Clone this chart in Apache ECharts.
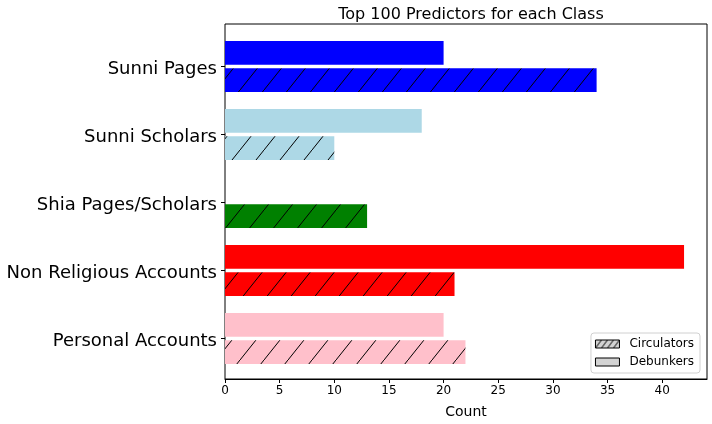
<!DOCTYPE html>
<html>
<head>
<meta charset="utf-8">
<script src="https://cdn.jsdelivr.net/npm/echarts@6/dist/echarts.min.js"></script>
<style>
  html, body { margin: 0; padding: 0; background: #fff; }
  #chart { width: 712px; height: 424px; }
</style>
</head>
<body>
<div id="chart"></div>
<script>
const categories = ['Sunni Pages', 'Sunni Scholars', 'Shia Pages/Scholars', 'Non Religious Accounts', 'Personal Accounts']
const debunkers = [20, 18, 0, 42, 20]
const circulators = [34, 10, 13, 21, 22]
const classColors = ['#0000ff', '#add8e6', '#008000', '#ff0000', '#ffc0cb']
const xTicks = [0, 5, 10, 15, 20, 25, 30, 35, 40]

const FONT = 'DejaVu Sans'

// hatch tile, '/' lines like matplotlib
const hatch = (bg, w = 24, h = 30) => {
  const c = document.createElement('canvas')
  c.width = w
  c.height = h
  const ctx = c.getContext('2d')
  ctx.fillStyle = bg
  ctx.fillRect(0, 0, w, h)
  ctx.strokeStyle = '#000'
  ctx.lineWidth = 1
  ctx.beginPath()
  ctx.moveTo(-w * 0.1, h * 1.1)
  ctx.lineTo(w * 1.1, -h * 0.1)
  ctx.stroke()
  return { image: c, repeat: 'repeat' }
}

const chart = echarts.init(document.getElementById('chart'), null, { renderer: 'canvas' })

const option = {
  animation: false,
  textStyle: { fontFamily: FONT, color: '#000' },
  title: {
    text: 'Top 100 Predictors for each Class',
    left: 466,
    textAlign: 'center',
    top: 2,
    textStyle: { fontFamily: FONT, fontSize: 16, fontWeight: 'normal', color: '#000' }
  },
  legend: {
    data: ['Circulators', 'Debunkers'],
    orient: 'vertical',
    right: 12,
    bottom: 51,
    icon: 'rect',
    itemWidth: 24,
    itemHeight: 8,
    itemGap: 6,
    padding: [5, 6, 5, 4],
    borderColor: '#d0d0d0',
    borderWidth: 1,
    borderRadius: 3,
    itemStyle: { borderColor: '#000', borderWidth: 1 },
    textStyle: { fontFamily: FONT, fontSize: 12, color: '#000', padding: [0, 0, 0, 5] }
  },
  grid: [
    // frame
    { left: 225, right: 5, top: 24, bottom: 45, show: true, borderColor: '#000', borderWidth: 1, backgroundColor: 'transparent' },
    // bars, inset by matplotlib's 5% margins
    { left: 225, right: 5, top: 32.5, bottom: 51.5 }
  ],
  xAxis: [
    {
      gridIndex: 0,
      type: 'value',
      min: 0,
      max: 44.1,
      name: 'Count',
      nameLocation: 'middle',
      nameGap: 26,
      nameTextStyle: { fontFamily: FONT, fontSize: 14, color: '#000' },
      axisLine: { show: true, lineStyle: { color: '#000', width: 1 } },
      axisTick: { show: true, length: 4, customValues: xTicks, lineStyle: { color: '#000' } },
      axisLabel: {
        fontFamily: FONT,
        fontSize: 12,
        color: '#000',
        margin: 6,
        customValues: xTicks
      },
      splitLine: { show: false }
    },
    {
      gridIndex: 1,
      type: 'value',
      min: 0,
      max: 44.1,
      show: false
    }
  ],
  yAxis: [
    { gridIndex: 0, type: 'value', show: false },
    {
      gridIndex: 1,
      type: 'category',
      data: categories,
      inverse: true,
      axisLine: { show: false },
      axisTick: { show: true, alignWithLabel: true, length: 4, lineStyle: { color: '#000' } },
      // matplotlib centres on the baseline-ish, so push the text a bit lower
      axisLabel: { fontFamily: FONT, fontSize: 18, color: '#000', margin: 8, verticalAlign: 'top', lineHeight: 5 },
      splitLine: { show: false }
    }
  ],
  series: [
    {
      name: 'Debunkers',
      type: 'bar',
      xAxisIndex: 1,
      yAxisIndex: 1,
      barWidth: 23.8,
      barGap: '14%',
      itemStyle: { color: '#d3d3d3' },
      data: debunkers.map((v, i) => ({ value: v, itemStyle: { color: classColors[i] } }))
    },
    {
      name: 'Circulators',
      type: 'bar',
      xAxisIndex: 1,
      yAxisIndex: 1,
      barWidth: 23.8,
      barGap: '14%',
      itemStyle: { color: hatch('#d3d3d3', 6, 8) },
      data: circulators.map((v, i) => ({ value: v, itemStyle: { color: hatch(classColors[i]) } }))
    }
  ]
}

chart.setOption(option)
</script>
</body>
</html>
